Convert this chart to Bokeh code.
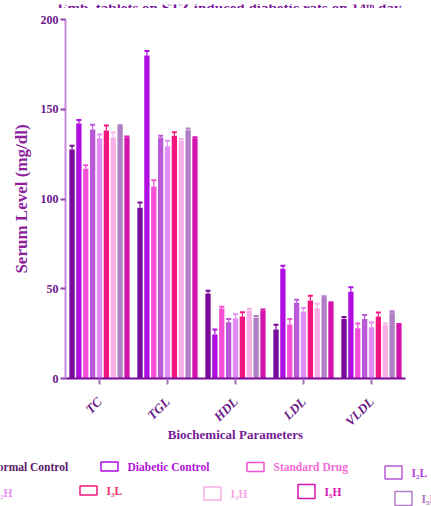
from math import pi
from bokeh.plotting import figure
from bokeh.layouts import column
from bokeh.models import ColumnDataSource, FactorRange, Range1d, Whisker, TeeHead
from bokeh.core.properties import value
from bokeh.transform import dodge
from bokeh.embed import file_html
from bokeh.resources import INLINE

# ---------------- data ----------------
categories = ["TC", "TGL", "HDL", "LDL", "VLDL"]

normal_control   = [127.6, 95.1, 47.4, 27.3, 33.2]
diabetic_control = [142.0, 179.9, 24.5, 61.1, 48.3]
standard_drug    = [116.8, 107.0, 39.0, 30.1, 28.0]
i2l              = [138.7, 134.3, 31.4, 42.2, 33.2]
i2h              = [133.9, 129.4, 33.6, 37.3, 28.6]
i3l              = [138.2, 135.2, 34.5, 43.5, 34.5]
i3h              = [134.3, 132.4, 37.9, 39.2, 29.7]
i5l              = [140.6, 138.3, 33.8, 45.3, 36.9]
i5h              = [134.3, 133.9, 37.9, 42.0, 29.9]

normal_control_err   = [2.0, 3.0, 1.5, 2.6, 1.0]
diabetic_control_err = [2.0, 2.6, 2.8, 1.7, 2.6]
standard_drug_err    = [2.0, 3.5, 1.0, 3.0, 2.6]
i2l_err              = [2.7, 1.0, 1.7, 1.7, 2.2]
i2h_err              = [2.0, 3.0, 2.2, 2.0, 2.6]
i3l_err              = [2.8, 2.0, 2.4, 2.6, 2.2]
i3h_err              = [2.8, 1.0, 1.0, 2.4, 1.0]
i5l_err              = [0.5, 1.0, 1.0, 0.5, 0.5]
i5h_err              = [0.5, 0.5, 0.5, 0.5, 0.5]

series_names = ["Normal Control", "Diabetic Control", "Standard Drug", "I\u2082L", "I\u2082H",
                "I\u2083L", "I\u2083H", "I\u2085L", "I\u2085H"]
series_values = [normal_control, diabetic_control, standard_drug, i2l, i2h, i3l, i3h, i5l, i5h]
series_errors = [normal_control_err, diabetic_control_err, standard_drug_err, i2l_err, i2h_err,
                 i3l_err, i3h_err, i5l_err, i5h_err]
series_colors = ["#79099A", "#B10DE3", "#F550D5", "#BB58D8", "#E28DF6",
                 "#F5157F", "#F8AEE8", "#B07EC4", "#D414AE"]
label_colors = ["#5A1A6B", "#B010D8", "#F56AD8", "#B040D8", "#E890F5",
                "#F0306A", "#F8A8E4", "#B070C4", "#D41AAE"]

title_text = "Emb. tablets on STZ induced diabetic rats on 14\u1d57\u02b0 day"
x_title = "Biochemical Parameters"
y_title = "Serum Level (mg/dl)"

# ---------------- layout constants (page pixels) ----------------
W = 431
TITLE_H = 8
MAIN_H = 444
LEG_H = 54
LEFT, RIGHT, TOP, BOTTOM = 65, 405, 19, 378
FONT = "Liberation Serif"
DARK = "#6B1A8A"


def strip(h, y_top):
    f = figure(width=W, height=h, x_range=Range1d(0, W), y_range=Range1d(y_top + h, y_top),
               x_axis_type=None, y_axis_type=None, min_border=0, frame_align=False,
               output_backend="svg", toolbar_location=None)
    f.outline_line_color = None
    f.xgrid.visible = False
    f.ygrid.visible = False
    return f


# ---------------- title strip (text cut by the top edge, as in the reference) ----------------
tf = strip(TITLE_H, 0)
tf.text(x=[57], y=[3.5], text=[title_text], text_font=value(FONT), text_font_style="bold",
        text_font_size="15px", text_color="#7A1A9A", text_baseline="alphabetic",
        text_align="left")

# ---------------- main chart ----------------
p = figure(x_range=FactorRange(*categories), y_range=Range1d(0, 200),
           width=W, height=MAIN_H, output_backend="svg", toolbar_location=None,
           frame_align=False,
           min_border_left=LEFT, min_border_right=W - RIGHT,
           min_border_top=TOP - TITLE_H, min_border_bottom=TITLE_H + MAIN_H - BOTTOM)
p.background_fill_color = "white"
p.border_fill_color = "white"
p.outline_line_color = None
p.xgrid.visible = False
p.ygrid.visible = False

data = {"cat": categories}
for i, (vals, errs) in enumerate(zip(series_values, series_errors)):
    data[f"s{i}"] = vals
    data[f"u{i}"] = [v + e for v, e in zip(vals, errs)]
src = ColumnDataSource(data)

slot = 0.101
bar_w = 0.078
for i, col in enumerate(series_colors):
    off = (i - 4) * slot
    p.vbar(x=dodge("cat", off, range=p.x_range), top=f"s{i}", width=bar_w,
           source=src, fill_color=col, line_color=None)
    w = Whisker(base=dodge("cat", off, range=p.x_range), upper=f"u{i}", lower=f"s{i}",
                source=src, line_color=col, line_width=1.2,
                upper_head=TeeHead(size=5, line_color=col, line_width=2), lower_head=None)
    p.add_layout(w)

yax = p.yaxis[0]
yax.ticker = [0, 50, 100, 150, 200]
yax.axis_line_color = "#C68AE0"
yax.axis_line_width = 2
yax.major_tick_line_color = "#8E40A8"
yax.major_tick_line_width = 2
yax.major_tick_in = 0
yax.major_tick_out = 5
yax.minor_tick_line_color = None
yax.major_label_standoff = 2
yax.major_label_text_font = FONT
yax.major_label_text_font_style = "bold"
yax.major_label_text_font_size = "12px"
yax.major_label_text_color = DARK
yax.axis_label = y_title
yax.axis_label_text_font = FONT
yax.axis_label_text_font_style = "bold"
yax.axis_label_text_font_size = "17px"
yax.axis_label_text_color = "#8E1E9E"
yax.axis_label_standoff = 7

xax = p.xaxis[0]
xax.axis_line_color = "#7A0A9A"
xax.axis_line_width = 2
xax.major_tick_line_color = "#A070B8"
xax.major_tick_line_width = 2
xax.major_tick_in = 0
xax.major_tick_out = 6
xax.major_label_orientation = pi / 4
xax.major_label_standoff = 15
xax.major_label_text_font = FONT
xax.major_label_text_font_style = "bold italic"
xax.major_label_text_font_size = "13px"
xax.major_label_text_color = DARK
xax.axis_label = x_title
xax.axis_label_text_font = FONT
xax.axis_label_text_font_style = "bold"
xax.axis_label_text_font_size = "13px"
xax.axis_label_text_color = "#741C96"
xax.axis_label_standoff = -10

# ---------------- legend strip (boxes + coloured labels, placed as in the reference) ----------------
lf = strip(LEG_H, TITLE_H + MAIN_H)
# (box left, box centre y, box height) in page pixels
legend_pos = [(-38, 466, 9), (100, 466, 9), (246, 466.5, 9), (384, 472, 13),
              (-32, 492, 11), (79, 490, 9), (203, 493, 13), (394, 498, 14), (297, 491, 14)]
leg_src = ColumnDataSource(dict(
    bx=[q[0] + 9 for q in legend_pos],
    tx=[q[0] + 27 for q in legend_pos],
    cy=[q[1] for q in legend_pos],
    bh=[q[2] for q in legend_pos],
    name=series_names, col=series_colors, tcol=label_colors))
lf.rect(x="bx", y="cy", width=17, height="bh", source=leg_src,
        fill_color="white", line_color="col", line_width=1.5)
lf.text(x="tx", y="cy", text="name", source=leg_src, text_color="tcol",
        text_font=value(FONT), text_font_style="bold", text_font_size="11.5px",
        text_baseline="middle", text_align="left")

layout = column(tf, p, lf, spacing=0)
layout.styles = {"position": "absolute", "top": "0px", "left": "0px"}

open("out.html", "w").write(file_html(layout, INLINE))
